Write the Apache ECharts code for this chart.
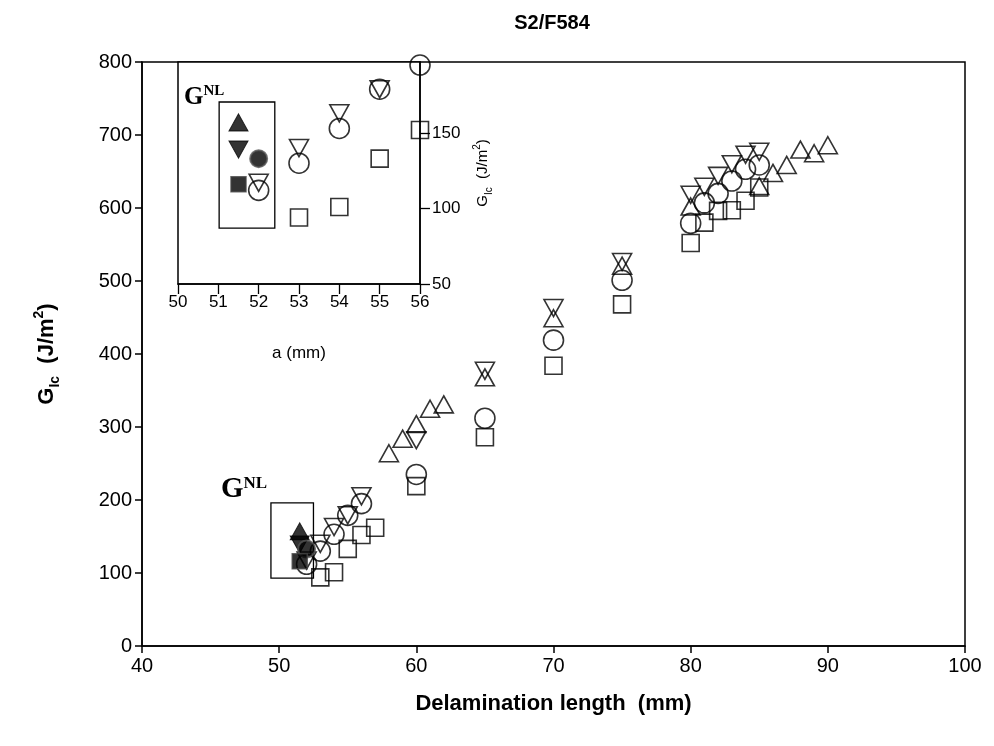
<!DOCTYPE html>
<html>
<head>
<meta charset="utf-8">
<script src="https://cdn.jsdelivr.net/npm/echarts@6/dist/echarts.min.js"></script>
<style>
html,body{margin:0;padding:0;background:#fff;}
#chart{width:994px;height:746px;}
</style>
</head>
<body>
<div id="chart"></div>
<script>
// ---- data ----
var titleText = 'S2/F584';
var xTicksMain = [40, 50, 60, 70, 80, 90, 100];
var yTicksMain = [0, 100, 200, 300, 400, 500, 600, 700, 800];
var xTicksInset = [50, 51, 52, 53, 54, 55, 56];
var yTicksInset = [50, 100, 150];

// open up-triangles
var upTri = [[58,264],[59,284],[60,304],[61,325],[62,331],[65,368],[70,449],[75,521],[80,602],[85,630],[86,648],[87,659],[88,680],[89,675],[90,686]];
// open down-triangles
var downTri = [[52,117],[53,140],[54,163],[55,179],[56,205],[60,282],[65,377],[70,463],[75,526],[80,618],[81,629],[82,644],[83,660],[84,673],[85,677]];
// open circles
var circles = [[52,112],[53,130],[54,153],[55,179],[56,195],[60,235],[65,312],[70,419],[75,501],[80,579],[81,607],[82,620],[83,637],[84,653],[85,659]];
// open squares
var squares = [[53,94],[54,101],[55,133],[56,152],[57,162],[60,219],[65,286],[70,384],[75,468],[80,552],[81,580],[82,596],[83,597],[84,610],[85,628]];
// G^NL (filled)
var gnlUp = [[51.5,157]];
var gnlDown = [[51.5,139]];
var gnlCircle = [[52,133]];
var gnlSquare = [[51.5,116]];
// G^NL boxes
var gnlBoxMain = [[49.4, 93], [52.5, 196]];
var gnlBoxInset = [[51.02, 87], [52.4, 170.5]];

// ---- chart ----
var FONT = 'Liberation Sans, Arial, sans-serif';
var SERIF = 'Liberation Serif, Times New Roman, serif';
var chart = echarts.init(document.getElementById('chart'), null, {renderer: 'canvas'});

function openStyle() { return {color: 'rgba(0,0,0,0)', borderColor: '#000', borderWidth: 1.6}; }
function filledStyle() { return {color: '#000', borderColor: '#000', borderWidth: 1}; }

function makeSeries(gi) {
  var ax = {xAxisIndex: gi, yAxisIndex: gi};
  var s = [
    Object.assign({type: 'scatter', name: 'up', data: upTri, symbol: 'triangle', symbolSize: [19, 17], itemStyle: openStyle()}, ax),
    Object.assign({type: 'scatter', name: 'down', data: downTri, symbol: 'triangle', symbolRotate: 180, symbolSize: [19, 17], itemStyle: openStyle()}, ax),
    Object.assign({type: 'scatter', name: 'circle', data: circles, symbol: 'circle', symbolSize: 20, itemStyle: openStyle()}, ax),
    Object.assign({type: 'scatter', name: 'square', data: squares, symbol: 'rect', symbolSize: 17, itemStyle: openStyle()}, ax),
    Object.assign({type: 'scatter', name: 'gnlUp', data: gnlUp, symbol: 'triangle', symbolSize: [19, 17], itemStyle: filledStyle()}, ax),
    Object.assign({type: 'scatter', name: 'gnlDown', data: gnlDown, symbol: 'triangle', symbolRotate: 180, symbolSize: [19, 17], itemStyle: filledStyle()}, ax),
    Object.assign({type: 'scatter', name: 'gnlCircle', data: gnlCircle, symbol: 'circle', symbolSize: 17, itemStyle: {color: '#000', borderColor: '#555', borderWidth: 2}}, ax),
    Object.assign({type: 'scatter', name: 'gnlSquare', data: gnlSquare, symbol: 'rect', symbolSize: 15, itemStyle: {color: '#000', borderColor: '#444', borderWidth: 1.5}}, ax)
  ];
  var box = gi === 0 ? gnlBoxMain : gnlBoxInset;
  s[0].markArea = {
    silent: true,
    itemStyle: {color: 'rgba(0,0,0,0)', borderColor: '#000', borderWidth: 1.3},
    data: [[{coord: box[0]}, {coord: box[1]}]]
  };
  return s;
}

var option = {
  backgroundColor: '#fff',
  animation: false,
  grid: [
    {left: 142, right: 29, top: 62, bottom: 100, show: true, borderColor: '#000', borderWidth: 1.5, backgroundColor: 'rgba(0,0,0,0)'},
    {left: 178, width: 242, top: 62, height: 222, show: true, borderColor: '#000', borderWidth: 1.5, backgroundColor: '#fff'}
  ],
  xAxis: [
    {
      type: 'value', gridIndex: 0, min: 40, max: 100, interval: 10,
      name: 'Delamination length  (mm)', nameLocation: 'middle', nameGap: 47,
      nameTextStyle: {fontFamily: FONT, fontSize: 22, fontWeight: 'bold', color: '#000'},
      axisLine: {show: true, lineStyle: {color: '#000', width: 1.5}},
      axisTick: {show: true, inside: false, length: 7, lineStyle: {color: '#000', width: 1.5}},
      axisLabel: {fontFamily: FONT, fontSize: 20, color: '#000', margin: 10},
      splitLine: {show: false}
    },
    {
      type: 'value', gridIndex: 1, min: 50, max: 56, interval: 1,
      name: 'a (mm)', nameLocation: 'middle', nameGap: 61,
      nameTextStyle: {fontFamily: FONT, fontSize: 17, color: '#000'},
      axisLine: {show: true, onZero: false, lineStyle: {color: '#000', width: 1.5}},
      axisTick: {show: true, length: 10, lineStyle: {color: '#000', width: 1.3}},
      axisLabel: {fontFamily: FONT, fontSize: 17, color: '#000', margin: 10},
      splitLine: {show: false}
    }
  ],
  yAxis: [
    {
      type: 'value', gridIndex: 0, min: 0, max: 800, interval: 100,
      name: '{b|G}{sub|Ic}{b|  (J/m}{sup|2}{b|)}', nameLocation: 'middle', nameGap: 80, nameRotate: 90,
      nameTextStyle: {
        color: '#000',
        rich: {
          b: {fontFamily: FONT, fontSize: 22, fontWeight: 'bold', color: '#000', lineHeight: 30},
          sub: {fontFamily: FONT, fontSize: 14, fontWeight: 'bold', color: '#000', verticalAlign: 'bottom', lineHeight: 20},
          sup: {fontFamily: FONT, fontSize: 14, fontWeight: 'bold', color: '#000', verticalAlign: 'top', lineHeight: 20}
        }
      },
      axisLine: {show: true, lineStyle: {color: '#000', width: 1.5}},
      axisTick: {show: true, length: 7, lineStyle: {color: '#000', width: 1.5}},
      axisLabel: {fontFamily: FONT, fontSize: 20, color: '#000', margin: 10},
      splitLine: {show: false}
    },
    {
      type: 'value', gridIndex: 1, min: 50, max: 197, interval: 50, position: 'right',
      name: '{b|G}{sub|Ic}{b|  (J/m}{sup|2}{b|)}', nameLocation: 'middle', nameGap: 52, nameRotate: 90,
      nameTextStyle: {
        color: '#000',
        rich: {
          b: {fontFamily: FONT, fontSize: 15, color: '#000', lineHeight: 22},
          sub: {fontFamily: FONT, fontSize: 10, color: '#000', verticalAlign: 'bottom', lineHeight: 14},
          sup: {fontFamily: FONT, fontSize: 10, color: '#000', verticalAlign: 'top', lineHeight: 14}
        }
      },
      axisLine: {show: true, onZero: false, lineStyle: {color: '#000', width: 1.5}},
      axisTick: {show: true, length: 10, customValues: yTicksInset, lineStyle: {color: '#000', width: 1.3}},
      axisLabel: {fontFamily: FONT, fontSize: 17, color: '#000', margin: 12, customValues: yTicksInset},
      splitLine: {show: false}
    }
  ],
  series: makeSeries(0).concat(makeSeries(1)),
  graphic: [
    {type: 'text', x: 552, y: 13, style: {text: titleText, fontFamily: FONT, fontSize: 20, fontWeight: 'bold', fill: '#000', textAlign: 'center'}},
    {type: 'text', left: 221, top: 475, style: {text: '{g|G}{s|NL}', rich: {
      g: {fontFamily: SERIF, fontSize: 29, fontWeight: 'bold', fill: '#000', lineHeight: 30},
      s: {fontFamily: SERIF, fontSize: 17, fontWeight: 'bold', fill: '#000', verticalAlign: 'top', lineHeight: 18}
    }}},
    {type: 'text', left: 184, top: 84, style: {text: '{g|G}{s|NL}', rich: {
      g: {fontFamily: SERIF, fontSize: 25, fontWeight: 'bold', fill: '#000', lineHeight: 27},
      s: {fontFamily: SERIF, fontSize: 15, fontWeight: 'bold', fill: '#000', verticalAlign: 'top', lineHeight: 16}
    }}}
  ]
};
chart.setOption(option);
</script>
</body>
</html>
